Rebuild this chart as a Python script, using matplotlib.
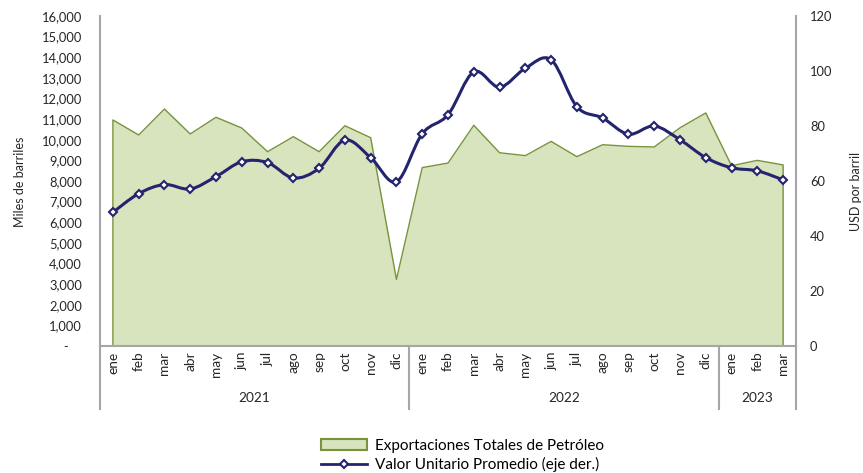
import numpy as np
import matplotlib.pyplot as plt
from matplotlib.path import Path
from matplotlib.patches import PathPatch, Patch
from matplotlib.lines import Line2D
from matplotlib.ticker import FuncFormatter

plt.rcParams['font.family'] = ['Lato', 'DejaVu Sans']

meses = ['ene', 'feb', 'mar', 'abr', 'may', 'jun', 'jul', 'ago', 'sep', 'oct', 'nov', 'dic',
         'ene', 'feb', 'mar', 'abr', 'may', 'jun', 'jul', 'ago', 'sep', 'oct', 'nov', 'dic',
         'ene', 'feb', 'mar']
anios = ['2021', '2022', '2023']
meses_por_anio = [12, 12, 3]

# miles de barriles
exportaciones = [10960, 10230, 11490, 10280, 11090, 10570, 9420, 10150, 9420, 10680, 10100, 3230,
                 8650, 8870, 10700, 9370, 9230, 9920, 9180, 9760, 9680, 9650, 10580, 11300,
                 8740, 9000, 8780]
# USD por barril
valor = [48.6, 55.4, 58.7, 57.1, 61.6, 67.0, 66.7, 61.1, 64.6, 74.9, 68.5, 59.7,
         77.2, 84.1, 99.7, 94.1, 101.0, 104.1, 87.0, 82.9, 77.0, 80.0, 75.0, 68.5,
         64.8, 63.7, 60.4]

verde = '#D7E4BD'
verde_borde = '#77933C'
azul = '#24246E'
gris = '#A6A6A6'
texto = '#262626'

fig = plt.figure(figsize=(8.63, 4.73), dpi=100)
ax = fig.add_axes([100 / 863, 1 - 346 / 473, 696 / 863, 330 / 473])

x = np.arange(len(meses))
ax.fill_between(x, exportaciones, color=verde, lw=0, zorder=1)
ax.plot(np.r_[x[0], x, x[-1]], np.r_[0, exportaciones, 0], color=verde_borde, lw=1, zorder=2)

ax.set_xlim(-0.5, len(x) - 0.5)
ax.set_ylim(0, 16000)
ax.set_yticks(np.arange(0, 16001, 1000))
ax.yaxis.set_major_formatter(FuncFormatter(lambda v, p: '-    ' if v == 0 else f'{v:,.0f}'))
ax.tick_params(axis='y', length=0, pad=13, labelsize=9.3, labelcolor=texto)
ax.set_xticks(x)
ax.set_xticklabels(meses, rotation=90)
ax.tick_params(axis='x', length=0, pad=4, labelsize=9.8, labelcolor=texto)

ax2 = ax.twinx()
ax2.set_ylim(0, 120)
ax2.set_yticks(range(0, 121, 20))
ax2.tick_params(axis='y', length=0, pad=10, labelsize=9.3, labelcolor=texto)

# linea suavizada (bezier tipo Excel) por los puntos
v = np.array(valor)
verts = [(x[0], v[0])]
codes = [Path.MOVETO]
n = len(v)
for i in range(n - 1):
    p0 = (x[max(i - 1, 0)], v[max(i - 1, 0)])
    p1 = (x[i], v[i])
    p2 = (x[i + 1], v[i + 1])
    p3 = (x[min(i + 2, n - 1)], v[min(i + 2, n - 1)])
    c1 = (p1[0] + (p2[0] - p0[0]) / 6, p1[1] + (p2[1] - p0[1]) / 6)
    c2 = (p2[0] - (p3[0] - p1[0]) / 6, p2[1] - (p3[1] - p1[1]) / 6)
    verts += [c1, c2, p2]
    codes += [Path.CURVE4] * 3
ax2.add_patch(PathPatch(Path(verts, codes), facecolor='none', edgecolor=azul, lw=2.2, zorder=3))
ax2.plot(x, valor, ls='none', marker='D', ms=4.5, mfc='white', mec=azul, mew=1.5, zorder=4)

for a in (ax, ax2):
    for s in a.spines.values():
        s.set_visible(False)
ax.spines['left'].set_visible(True)
ax.spines['bottom'].set_visible(True)
ax2.spines['right'].set_visible(True)
for s in (ax.spines['left'], ax.spines['bottom'], ax2.spines['right']):
    s.set_color(gris)
    s.set_linewidth(1.5)

# separadores de la categoria de anio
trans = ax.get_xaxis_transform()
bordes = np.r_[0, np.cumsum(meses_por_anio)] - 0.5
for b in bordes:
    ax.plot([b, b], [0, -0.19], transform=trans, clip_on=False, color=gris, lw=1.5)
for k, anio in enumerate(anios):
    ax.text((bordes[k] + bordes[k + 1]) / 2, -0.158, anio, transform=trans,
            ha='center', va='center', fontsize=9.8, color=texto)

fig.text(20 / 863, 1 - 182 / 473, 'Miles de barriles', rotation=90, ha='center', va='center',
         fontsize=9, color=texto)
fig.text(856 / 863, 1 - 191 / 473, 'USD por barril', rotation=90, ha='center', va='center',
         fontsize=9, color=texto)

handles = [Patch(facecolor=verde, edgecolor=verde_borde, lw=1.5),
           Line2D([], [], color=azul, lw=2, marker='D', ms=4.5, mfc='white', mec=azul, mew=1.5)]
fig.legend(handles, ['Exportaciones Totales de Petróleo', 'Valor Unitario Promedio (eje der.)'],
           loc='upper left', bbox_to_anchor=(312 / 863, 1 - 430 / 473), frameon=False,
           fontsize=11, handlelength=3.0, handleheight=0.7, labelspacing=0.25, handletextpad=0.5,
           borderpad=0.1)

fig.savefig('out.png', dpi=100)
